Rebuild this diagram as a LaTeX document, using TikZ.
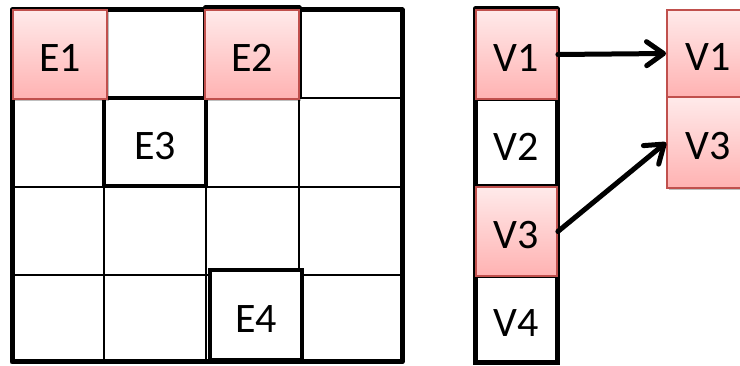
\documentclass[tikz,border=0pt]{standalone}
\usepackage{fontspec}
\setmainfont{Carlito}
\usetikzlibrary{arrows.meta,shadows}
\definecolor{celledge}{RGB}{192,80,77}
\definecolor{celltop}{RGB}{255,234,234}
\definecolor{cellbottom}{RGB}{255,178,178}
\tikzset{
  cellfont/.style={font=\fontsize{42}{48}\selectfont, text height=35pt, text depth=0pt, inner sep=0pt},
  gridthin/.style={line width=2pt, black},
  gridframe/.style={line width=5pt, black, line join=round},
  plaincell/.style={cellfont, draw=black, line width=4pt, fill=white},
  pinkcell/.style={cellfont, draw=celledge, line width=1.8pt,
    top color=celltop, bottom color=cellbottom,
    drop shadow={shadow xshift=1.5pt, shadow yshift=-2.5pt, opacity=0.25, fill=black}},
  linkarrow/.style={line width=5pt, line cap=round,
    -{Straight Barb[length=17pt, width=24pt, line cap=round, line join=round]}}
}
\begin{document}
\begin{tikzpicture}[x=1pt, y=-1pt]
  \path[use as bounding box] (0,0) rectangle (740,366);
  \clip (0,0) rectangle (740,366);
  \fill[white] (0,0) rectangle (740,366);

  % 4x4 matrix grid
  \foreach \x in {104,206,299} \draw[gridthin] (\x,10) -- (\x,362);
  \foreach \y in {98,187,275} \draw[gridthin] (12,\y) -- (402,\y);
  \draw[gridframe] (12,10) rectangle (402,362);
  \draw[gridframe] (205,8) rectangle (299,97);

  % highlighted matrix entries
  \node[plaincell, minimum width=102pt, minimum height=88pt] (e3) at (155,142.5) {E3};
  \node[plaincell, minimum width=92pt, minimum height=90pt] (e4) at (256,315) {E4};
  \node[pinkcell, minimum width=94pt, minimum height=89pt] (e1) at (60,54.5) {E1};
  \node[pinkcell, minimum width=94pt, minimum height=89pt] (e2) at (252,54.5) {E2};

  % vector column
  \node[plaincell, line width=5pt, minimum width=82pt, minimum height=88pt] (lv2) at (516,143) {V2};
  \node[plaincell, line width=5pt, minimum width=82pt, minimum height=87pt] (lv4) at (516,319.5) {V4};
  \draw[gridframe] (475,9) rectangle (557,363);
  \node[pinkcell, minimum width=81pt, minimum height=89pt] (lv1) at (516.5,54.5) {V1};
  \node[pinkcell, minimum width=81pt, minimum height=89pt] (lv3) at (516.5,231.5) {V3};

  % compacted vector
  \node[pinkcell, minimum width=82pt, minimum height=87pt] (rv1) at (708,53.5) {V1};
  \node[pinkcell, minimum width=82pt, minimum height=91pt] (rv3) at (708,142.5) {V3};

  % links
  \draw[linkarrow] (lv1.east) -- (rv1.west);
  \draw[linkarrow] (lv3.east) -- (rv3.west);
\end{tikzpicture}
\end{document}
